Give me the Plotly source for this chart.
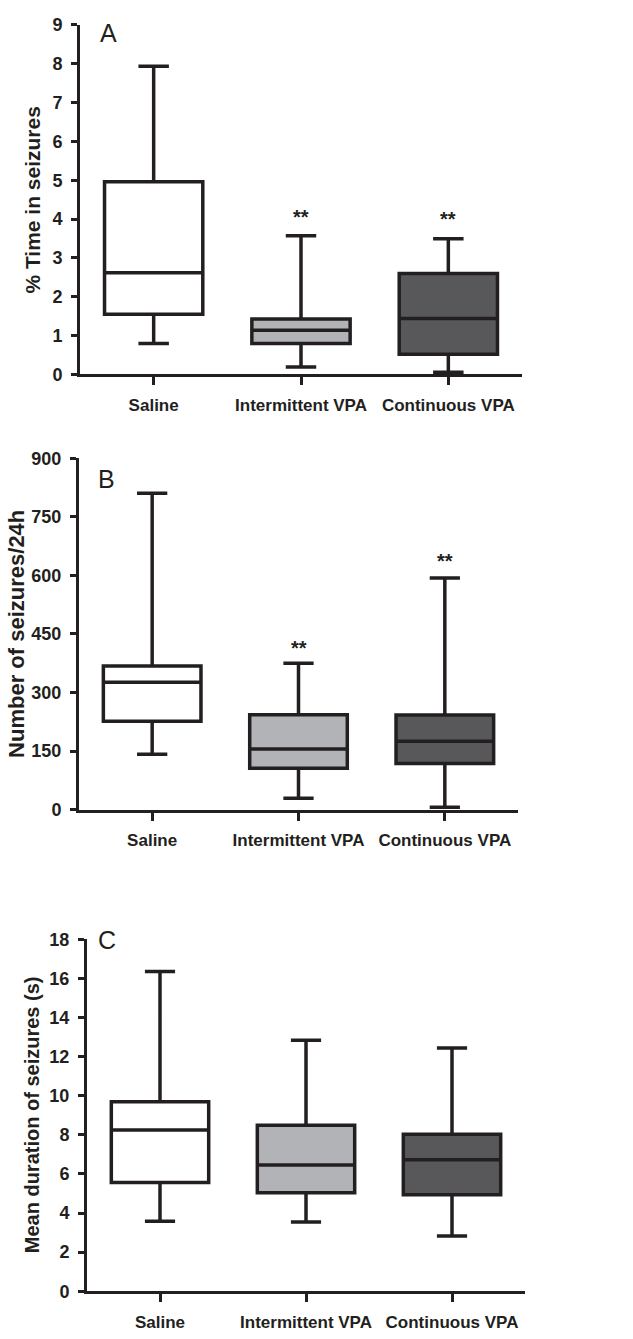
import plotly.graph_objects as go

W, H = 633, 1339

categories = ["Saline", "Intermittent VPA", "Continuous VPA"]
fill_colors = ["#ffffff", "#b2b3b6", "#58585a"]

# Panel A: % time in seizures
a_low = [0.80, 0.19, 0.06]
a_q1 = [1.55, 0.80, 0.52]
a_med = [2.62, 1.14, 1.44]
a_q3 = [4.96, 1.43, 2.60]
a_high = [7.93, 3.57, 3.49]
a_star_y = [None, 4.06, 4.00]

# Panel B: number of seizures / 24h
b_low = [142, 29, 6]
b_q1 = [226, 106, 118]
b_med = [326, 155, 175]
b_q3 = [368, 243, 242]
b_high = [810, 375, 593]
b_star_y = [None, 415, 637]

# Panel C: mean duration of seizures (s)
c_low = [3.58, 3.54, 2.82]
c_q1 = [5.56, 5.04, 4.94]
c_med = [8.24, 6.45, 6.73]
c_q3 = [9.69, 8.49, 8.03]
c_high = [16.35, 12.84, 12.44]

INK = "#231f20"
FONT = "Liberation Sans, Arial, sans-serif"

fig = go.Figure()

panels = [
    dict(ax="", low=a_low, q1=a_q1, med=a_med, q3=a_q3, high=a_high, stars=a_star_y,
         xpx=(80, 522), ypx=(15, 370), rng=[0, 9], dtick=1, letter="A", lpos=(108, 23),
         title="% Time in seizures", tx=33, tsize=21),
    dict(ax="2", low=b_low, q1=b_q1, med=b_med, q3=b_q3, high=b_high, stars=b_star_y,
         xpx=(79, 518), ypx=(455, 811.7), rng=[0, 900], dtick=150, letter="B", lpos=(106, 476),
         title="Number of seizures/24h", tx=17, tsize=22),
    dict(ax="3", low=c_low, q1=c_q1, med=c_med, q3=c_q3, high=c_high, stars=None,
         xpx=(87, 525), ypx=(943.3, 1300.7), rng=[0, 18], dtick=2, letter="C", lpos=(107, 944),
         title="Mean duration of seizures (s)", tx=32, tsize=20),
]

annotations = []
for p in panels:
    ax = p["ax"]
    for i, cat in enumerate(categories):
        fig.add_trace(go.Box(
            x=[cat], q1=[p["q1"][i]], median=[p["med"][i]], q3=[p["q3"][i]],
            lowerfence=[p["low"][i]], upperfence=[p["high"][i]],
            fillcolor=fill_colors[i], line=dict(color=INK, width=3.5),
            width=0.667, whiskerwidth=0.31, boxpoints=False, showlegend=False,
            hoverinfo="skip", xaxis="x" + ax, yaxis="y" + ax,
        ))
        if p["stars"] is not None and p["stars"][i] is not None:
            annotations.append(dict(
                x=cat, y=p["stars"][i], xref="x" + ax, yref="y" + ax, text="**",
                showarrow=False, font=dict(family=FONT, size=20, color=INK, weight="bold"),
                xanchor="center", yanchor="middle"))
    x0, x1 = p["xpx"]
    yt, yb = p["ypx"]
    xd = [x0 / W, x1 / W]
    yd = [1 - yb / H, 1 - yt / H]
    fig.update_layout(**{
        "xaxis" + ax: dict(
            domain=xd, type="category", categoryorder="array", categoryarray=categories,
            range=[-0.5, 2.5], showline=True, linecolor=INK, linewidth=3,
            ticks="outside", ticklen=8, tickwidth=3, tickcolor=INK, tickangle=0,
            tickfont=dict(family=FONT, size=17, color=INK, weight="bold"),
            showgrid=False, zeroline=False, anchor="y" + ax, fixedrange=True,
            ticklabelstandoff=5,
        ),
        "yaxis" + ax: dict(
            domain=yd, range=p["rng"], dtick=p["dtick"], tick0=0,
            showline=True, linecolor=INK, linewidth=3,
            ticks="outside", ticklen=6, tickwidth=3, tickcolor=INK,
            tickfont=dict(family=FONT, size=18, color=INK, weight="bold"),
            showgrid=False, zeroline=False, anchor="x" + ax, fixedrange=True,
            ticklabelstandoff=5,
        ),
    })
    annotations.append(dict(
        x=p["lpos"][0] / W, y=1 - p["lpos"][1] / H, xref="paper", yref="paper",
        text=p["letter"], showarrow=False, xanchor="center", yanchor="middle",
        font=dict(family=FONT, size=25, color=INK)))
    annotations.append(dict(
        x=p["tx"] / W, y=1 - (yt + yb) / 2 / H, xref="paper", yref="paper",
        text=p["title"], showarrow=False, textangle=-90, xanchor="center", yanchor="middle",
        font=dict(family=FONT, size=p["tsize"], color=INK, weight="bold")))

fig.update_layout(
    width=W, height=H, margin=dict(l=0, r=0, t=0, b=0),
    paper_bgcolor="white", plot_bgcolor="white",
    annotations=annotations, showlegend=False,
)

fig.write_html("out.html")
